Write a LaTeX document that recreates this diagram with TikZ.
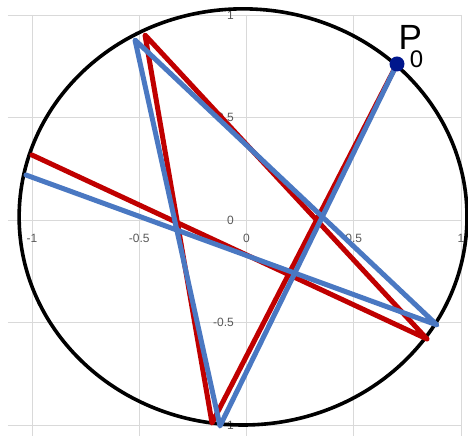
\documentclass[tikz,border=0pt]{standalone}
\usepackage{fontspec}
\setmainfont{Liberation Sans}
\usepackage{xcolor}
\usepackage{tikz}
\definecolor{starred}{RGB}{192,0,0}
\definecolor{starblue}{RGB}{74,120,194}
\definecolor{dotblue}{RGB}{0,22,140}
\definecolor{gridgray}{RGB}{217,217,217}
\definecolor{ticktext}{RGB}{89,89,89}

\begin{document}
\begin{tikzpicture}[
    x=214.5pt, y=205pt,
    gridline/.style={gridgray, line width=0.8pt},
    ticklbl/.style={ticktext, font=\fontsize{12}{14}\selectfont, inner sep=0pt},
    rim/.style={black, line width=3.6pt},
    star/.style={line width=5pt, line join=round, line cap=round},
]

% === frame ===
\fill[white] (-1.1492,-1.0537) rectangle (1.0326,1.0732);
\useasboundingbox (-1.1492,-1.0537) rectangle (1.0326,1.0732);

% === grid ===
\foreach \g in {-1,-0.5,0,0.5,1} {
    \draw[gridline] (\g,1) -- (\g,-1.0537);
    \draw[gridline] (-1.112,\g) -- (1,\g);
}

% === tick labels ===
\foreach \g/\t in {-1/-1, -0.5/-0.5, 0/0, 0.5/0.5, 1/1} {
    \node[ticklbl] (xl\g) at (\g,-0.088) {\t};
    \node[ticklbl, anchor=east] (yl\g) at (-0.058,\g) {\t};
}

% === unit circle ===
\draw[rim] (-0.016,0.015) ellipse [x radius=1.044, y radius=1.015];

% === vertices ===
\coordinate (P0) at (0.7016, 0.7610);
\coordinate (rB) at (-0.1608,-0.9902);
\coordinate (rT) at (-0.4732, 0.9024);
\coordinate (rR) at ( 0.8415,-0.5805);
\coordinate (rL) at (-1.0000, 0.3171);
\coordinate (bB) at (-0.1235,-1.0049);
\coordinate (bT) at (-0.5198, 0.8780);
\coordinate (bR) at ( 0.8881,-0.5122);
\coordinate (bL) at (-1.0280, 0.2195);

% === red star ===
\draw[star, starred] (P0) -- (rB) -- (rT) -- (rR) -- (rL);

% === blue star ===
\draw[star, starblue] (P0) -- (bB) -- (bT) -- (bR) -- (bL);

% === P_0 ===
\fill[dotblue] (P0) circle[radius=7.5pt];
\node[anchor=base west, inner sep=0pt, font=\fontsize{35}{40}\selectfont] (p0lbl) at (0.708,0.834)
    {P\kern-12pt\raisebox{-18.5pt}{\fontsize{24}{28}\selectfont 0}};

\end{tikzpicture}
\end{document}
